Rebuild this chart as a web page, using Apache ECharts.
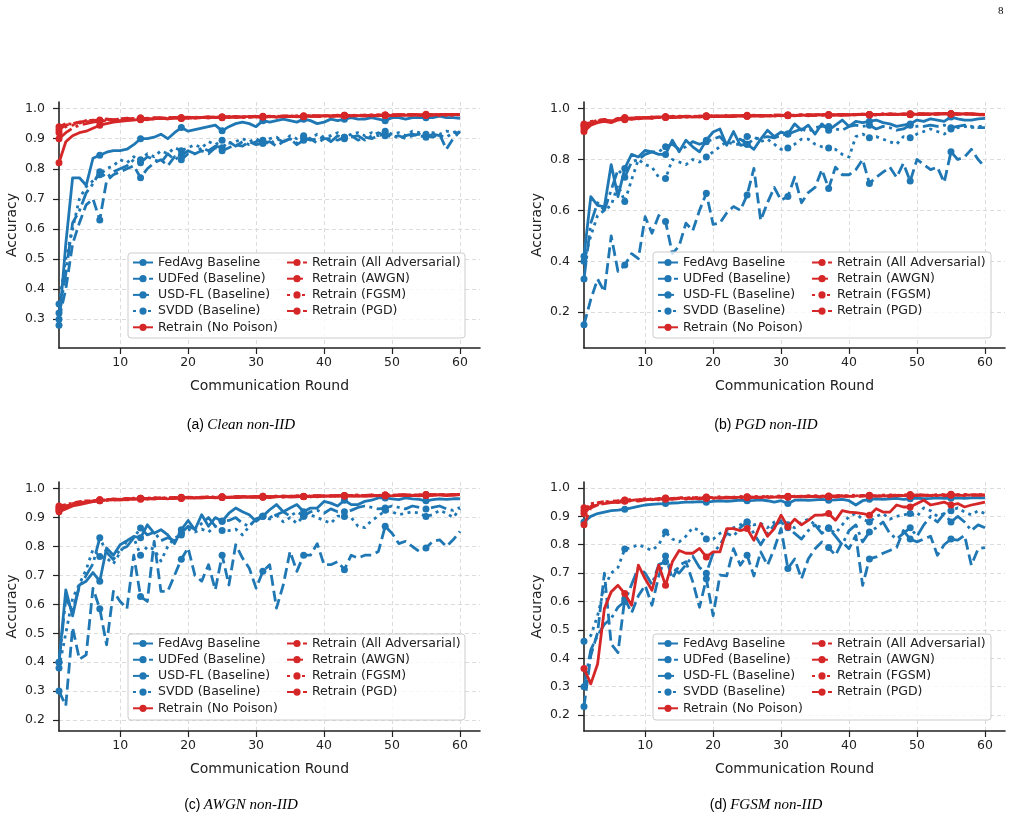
<!DOCTYPE html>
<html lang="en">
<head>
<meta charset="UTF-8">
<title>Accuracy per communication round</title>
<script src="https://cdn.jsdelivr.net/npm/echarts@6/dist/echarts.min.js"></script>
<style>
    html, body { margin: 0; padding: 0; background: #fff; }
    #chart { width: 1026px; height: 822px; }
</style>
</head>
<body>
<div id="chart"></div>
<script>
// communication rounds (x values)
const rounds = [1,2,3,4,5,6,7,8,9,10,11,12,13,14,15,16,17,18,19,20,
    21,22,23,24,25,26,27,28,29,30,31,32,33,34,35,36,37,38,39,40,
    41,42,43,44,45,46,47,48,49,50,51,52,53,54,55,56,57,58,59,60];
const xTicks = [10, 20, 30, 40, 50, 60];
const yTicksClean = [0.3, 0.4, 0.5, 0.6, 0.7, 0.8, 0.9, 1.0];
const yTicksPGD = [0.2, 0.4, 0.6, 0.8, 1.0];
const yTicksAWGN = [0.2, 0.3, 0.4, 0.5, 0.6, 0.7, 0.8, 0.9, 1.0];
const yTicksFGSM = [0.2, 0.3, 0.4, 0.5, 0.6, 0.7, 0.8, 0.9, 1.0];

const seriesNames = ['FedAvg Baseline', 'UDFed (Baseline)', 'USD-FL (Baseline)', 'SVDD (Baseline)',
    'Retrain (No Poison)', 'Retrain (All Adversarial)', 'Retrain (AWGN)', 'Retrain (FGSM)', 'Retrain (PGD)'];

// ---- (a) Clean non-IID ----
const cleanFedAvg = [0.28,0.55,0.77,0.77,0.745,0.835,0.845,0.855,0.86,0.86,
    0.865,0.88,0.90,0.90,0.905,0.915,0.90,0.92,0.937,0.925,
    0.93,0.935,0.94,0.945,0.926,0.94,0.95,0.955,0.95,0.94,
    0.96,0.955,0.96,0.965,0.96,0.955,0.965,0.96,0.95,0.955,
    0.965,0.96,0.965,0.97,0.965,0.965,0.97,0.965,0.96,0.97,
    0.97,0.965,0.97,0.97,0.97,0.97,0.975,0.97,0.97,0.968];
const cleanUDFed = [0.30,0.40,0.55,0.62,0.68,0.70,0.63,0.76,0.78,0.79,
    0.80,0.81,0.77,0.80,0.82,0.83,0.81,0.84,0.83,0.85,
    0.85,0.86,0.85,0.87,0.86,0.87,0.88,0.875,0.89,0.88,
    0.885,0.89,0.875,0.89,0.90,0.88,0.895,0.90,0.885,0.90,
    0.90,0.895,0.905,0.91,0.895,0.905,0.90,0.91,0.915,0.905,
    0.91,0.90,0.91,0.915,0.91,0.905,0.915,0.865,0.90,0.925];
const cleanUSDFL = [0.32,0.45,0.62,0.66,0.72,0.75,0.79,0.77,0.79,0.80,
    0.81,0.83,0.82,0.84,0.83,0.82,0.85,0.83,0.845,0.86,
    0.85,0.87,0.86,0.875,0.87,0.89,0.875,0.89,0.88,0.89,
    0.895,0.88,0.90,0.89,0.90,0.885,0.905,0.895,0.90,0.905,
    0.89,0.91,0.90,0.905,0.91,0.895,0.91,0.92,0.91,0.915,
    0.90,0.91,0.915,0.91,0.905,0.915,0.91,0.905,0.92,0.92];
const cleanSVDD = [0.35,0.50,0.60,0.70,0.74,0.76,0.78,0.80,0.81,0.83,
    0.82,0.84,0.83,0.85,0.84,0.86,0.85,0.87,0.86,0.87,
    0.88,0.87,0.89,0.88,0.895,0.885,0.89,0.90,0.89,0.90,
    0.885,0.90,0.905,0.89,0.91,0.90,0.91,0.90,0.915,0.905,
    0.91,0.92,0.905,0.915,0.92,0.91,0.92,0.91,0.925,0.915,
    0.92,0.91,0.925,0.92,0.915,0.92,0.915,0.925,0.92,0.93];
const cleanNoPoison = [0.82,0.89,0.91,0.92,0.925,0.935,0.945,0.95,0.955,0.958,
    0.96,0.962,0.965,0.963,0.967,0.968,0.966,0.969,0.97,0.968,
    0.97,0.971,0.969,0.972,0.97,0.973,0.971,0.972,0.974,0.972,
    0.973,0.975,0.972,0.974,0.975,0.973,0.976,0.974,0.975,0.977,
    0.975,0.976,0.978,0.976,0.977,0.978,0.976,0.979,0.977,0.978,
    0.98,0.978,0.979,0.98,0.978,0.98,0.979,0.981,0.98,0.98];
const cleanAllAdv = [0.93,0.945,0.95,0.955,0.958,0.962,0.96,0.965,0.963,0.966,
    0.968,0.965,0.969,0.967,0.97,0.968,0.971,0.969,0.97,0.972,
    0.97,0.971,0.973,0.97,0.972,0.974,0.972,0.973,0.971,0.974,
    0.975,0.973,0.974,0.976,0.974,0.975,0.973,0.976,0.977,0.975,
    0.976,0.978,0.976,0.977,0.979,0.977,0.978,0.976,0.979,0.98,
    0.978,0.979,0.981,0.979,0.98,0.978,0.981,0.98,0.979,0.981];
const cleanAWGN = [0.90,0.92,0.935,0.945,0.95,0.955,0.958,0.96,0.962,0.96,
    0.964,0.966,0.963,0.967,0.965,0.968,0.966,0.969,0.967,0.97,
    0.968,0.971,0.969,0.97,0.972,0.97,0.973,0.971,0.972,0.974,
    0.972,0.973,0.975,0.973,0.974,0.972,0.975,0.976,0.974,0.975,
    0.977,0.975,0.976,0.974,0.977,0.978,0.976,0.977,0.979,0.977,
    0.978,0.98,0.978,0.979,0.977,0.98,0.978,0.979,0.981,0.979];
const cleanFGSM = [0.92,0.94,0.945,0.952,0.956,0.96,0.958,0.963,0.961,0.965,
    0.963,0.967,0.965,0.968,0.966,0.969,0.967,0.97,0.968,0.969,
    0.971,0.969,0.972,0.97,0.971,0.973,0.971,0.972,0.974,0.972,
    0.973,0.971,0.975,0.973,0.974,0.976,0.974,0.975,0.973,0.976,
    0.977,0.975,0.976,0.978,0.976,0.977,0.979,0.977,0.978,0.976,
    0.979,0.98,0.978,0.979,0.981,0.979,0.98,0.978,0.98,0.981];
const cleanPGD = [0.94,0.95,0.948,0.955,0.96,0.958,0.962,0.965,0.963,0.966,
    0.964,0.967,0.969,0.966,0.968,0.97,0.968,0.971,0.969,0.97,
    0.972,0.97,0.971,0.973,0.971,0.972,0.974,0.972,0.973,0.975,
    0.973,0.974,0.972,0.975,0.976,0.974,0.975,0.977,0.975,0.976,
    0.974,0.977,0.978,0.976,0.977,0.975,0.978,0.979,0.977,0.978,
    0.98,0.978,0.979,0.977,0.98,0.981,0.979,0.98,0.978,0.98];

// ---- (b) PGD non-IID ----
const pgdFedAvg = [0.42,0.654,0.62,0.614,0.78,0.654,0.765,0.82,0.81,0.836,
    0.83,0.82,0.82,0.876,0.83,0.876,0.85,0.83,0.876,0.908,
    0.92,0.856,0.91,0.856,0.86,0.84,0.88,0.915,0.89,0.908,
    0.90,0.94,0.915,0.935,0.90,0.94,0.915,0.935,0.955,0.93,
    0.95,0.945,0.95,0.955,0.945,0.94,0.93,0.935,0.94,0.955,
    0.95,0.96,0.955,0.95,0.967,0.96,0.955,0.955,0.96,0.962];
const pgdUDFed = [0.15,0.25,0.33,0.28,0.50,0.36,0.385,0.43,0.41,0.575,
    0.51,0.58,0.556,0.43,0.46,0.55,0.52,0.60,0.667,0.545,
    0.55,0.59,0.615,0.60,0.66,0.765,0.56,0.63,0.69,0.64,
    0.655,0.73,0.63,0.67,0.69,0.76,0.686,0.77,0.74,0.74,
    0.76,0.80,0.706,0.73,0.75,0.77,0.73,0.785,0.715,0.80,
    0.78,0.76,0.77,0.71,0.83,0.80,0.81,0.84,0.80,0.77];
const pgdUSDFL = [0.33,0.55,0.63,0.60,0.68,0.76,0.73,0.79,0.80,0.82,
    0.83,0.83,0.85,0.86,0.84,0.85,0.87,0.86,0.87,0.88,
    0.89,0.86,0.87,0.88,0.86,0.88,0.885,0.89,0.885,0.895,
    0.90,0.91,0.92,0.91,0.925,0.93,0.93,0.92,0.915,0.93,
    0.935,0.93,0.935,0.92,0.93,0.925,0.915,0.92,0.935,0.93,
    0.93,0.935,0.93,0.935,0.925,0.93,0.935,0.93,0.925,0.925];
const pgdSVDD = [0.40,0.50,0.58,0.60,0.62,0.70,0.635,0.72,0.80,0.78,
    0.77,0.73,0.725,0.80,0.79,0.78,0.80,0.79,0.81,0.83,
    0.85,0.87,0.86,0.86,0.89,0.89,0.87,0.88,0.86,0.84,
    0.845,0.86,0.88,0.88,0.86,0.85,0.845,0.84,0.82,0.81,
    0.89,0.90,0.885,0.89,0.88,0.87,0.86,0.89,0.885,0.90,
    0.91,0.92,0.91,0.90,0.92,0.925,0.93,0.925,0.93,0.93];
const pgdNoPoison = [0.91,0.935,0.945,0.95,0.945,0.955,0.96,0.958,0.962,0.965,
    0.963,0.966,0.968,0.965,0.967,0.969,0.967,0.97,0.968,0.97,
    0.969,0.971,0.97,0.972,0.97,0.971,0.973,0.971,0.972,0.974,
    0.972,0.973,0.975,0.973,0.974,0.976,0.974,0.975,0.973,0.976,
    0.975,0.977,0.975,0.976,0.978,0.976,0.977,0.979,0.977,0.978,
    0.976,0.979,0.98,0.978,0.979,0.977,0.98,0.979,0.978,0.976];
const pgdAllAdv = [0.93,0.945,0.95,0.955,0.952,0.96,0.962,0.96,0.965,0.963,
    0.966,0.968,0.966,0.969,0.967,0.97,0.968,0.97,0.972,0.97,
    0.971,0.969,0.972,0.973,0.971,0.974,0.972,0.973,0.975,0.973,
    0.974,0.972,0.975,0.976,0.974,0.975,0.977,0.975,0.976,0.974,
    0.977,0.978,0.976,0.977,0.975,0.978,0.979,0.977,0.978,0.98,
    0.978,0.979,0.977,0.98,0.981,0.979,0.98,0.978,0.979,0.977];
const pgdAWGN = [0.92,0.94,0.948,0.953,0.95,0.958,0.956,0.962,0.96,0.964,
    0.962,0.965,0.967,0.965,0.968,0.966,0.969,0.967,0.97,0.968,
    0.971,0.969,0.97,0.972,0.97,0.973,0.971,0.972,0.974,0.972,
    0.975,0.973,0.974,0.972,0.975,0.976,0.974,0.975,0.977,0.975,
    0.976,0.978,0.976,0.977,0.979,0.977,0.976,0.978,0.979,0.977,
    0.98,0.978,0.979,0.981,0.979,0.978,0.98,0.978,0.977,0.975];
const pgdFGSM = [0.935,0.95,0.952,0.956,0.95,0.96,0.965,0.962,0.966,0.964,
    0.967,0.965,0.968,0.97,0.967,0.969,0.971,0.969,0.97,0.972,
    0.97,0.973,0.971,0.972,0.974,0.972,0.973,0.971,0.974,0.975,
    0.973,0.974,0.976,0.974,0.975,0.973,0.976,0.977,0.975,0.976,
    0.978,0.976,0.977,0.975,0.978,0.979,0.977,0.978,0.976,0.979,
    0.98,0.978,0.979,0.981,0.979,0.98,0.978,0.979,0.976,0.974];
const pgdPGD = [0.94,0.945,0.955,0.958,0.952,0.962,0.96,0.964,0.962,0.966,
    0.965,0.967,0.965,0.968,0.97,0.968,0.97,0.969,0.971,0.97,
    0.972,0.97,0.971,0.973,0.972,0.974,0.972,0.973,0.971,0.974,
    0.975,0.973,0.974,0.976,0.975,0.977,0.974,0.976,0.977,0.975,
    0.976,0.978,0.977,0.975,0.978,0.979,0.977,0.978,0.98,0.978,
    0.979,0.977,0.98,0.981,0.979,0.98,0.978,0.979,0.977,0.975];

// ---- (c) AWGN non-IID ----
const awgnFedAvg = [0.40,0.65,0.56,0.667,0.68,0.71,0.68,0.795,0.77,0.806,
    0.82,0.835,0.83,0.875,0.846,0.858,0.84,0.81,0.858,0.89,
    0.858,0.91,0.87,0.90,0.887,0.915,0.933,0.92,0.91,0.887,
    0.905,0.927,0.945,0.92,0.933,0.945,0.92,0.933,0.933,0.956,
    0.95,0.94,0.96,0.945,0.945,0.956,0.96,0.968,0.968,0.965,
    0.962,0.968,0.965,0.963,0.958,0.962,0.965,0.963,0.965,0.965];
const awgnUDFed = [0.30,0.25,0.52,0.41,0.425,0.655,0.585,0.46,0.645,0.61,
    0.585,0.77,0.627,0.61,0.818,0.645,0.645,0.70,0.756,0.795,
    0.70,0.68,0.737,0.65,0.77,0.667,0.806,0.76,0.725,0.656,
    0.714,0.737,0.587,0.667,0.783,0.714,0.77,0.77,0.81,0.737,
    0.737,0.748,0.72,0.77,0.76,0.77,0.77,0.783,0.87,0.846,
    0.81,0.818,0.80,0.783,0.795,0.818,0.823,0.80,0.823,0.852];
const awgnUSDFL = [0.40,0.62,0.58,0.66,0.70,0.74,0.83,0.78,0.755,0.79,
    0.80,0.83,0.864,0.84,0.85,0.82,0.83,0.82,0.846,0.87,
    0.86,0.88,0.90,0.87,0.887,0.89,0.90,0.88,0.87,0.895,
    0.905,0.895,0.91,0.92,0.905,0.92,0.905,0.92,0.925,0.915,
    0.93,0.92,0.92,0.925,0.935,0.94,0.935,0.93,0.933,0.94,
    0.935,0.93,0.94,0.935,0.93,0.935,0.94,0.93,0.925,0.935];
const awgnSVDD = [0.38,0.50,0.62,0.67,0.72,0.79,0.765,0.76,0.74,0.78,
    0.82,0.83,0.77,0.80,0.79,0.75,0.80,0.83,0.84,0.86,
    0.85,0.86,0.85,0.87,0.855,0.855,0.86,0.84,0.87,0.895,
    0.905,0.90,0.91,0.885,0.90,0.88,0.905,0.91,0.90,0.89,
    0.88,0.905,0.904,0.90,0.87,0.865,0.89,0.905,0.925,0.92,
    0.91,0.915,0.92,0.915,0.904,0.91,0.925,0.915,0.90,0.93];
const awgnNoPoison = [0.92,0.93,0.94,0.945,0.95,0.955,0.958,0.96,0.962,0.96,
    0.963,0.965,0.963,0.966,0.964,0.967,0.965,0.968,0.966,0.969,
    0.967,0.968,0.97,0.968,0.969,0.971,0.969,0.97,0.972,0.97,
    0.971,0.969,0.972,0.973,0.971,0.972,0.974,0.972,0.973,0.975,
    0.973,0.974,0.976,0.974,0.975,0.973,0.976,0.977,0.975,0.976,
    0.978,0.976,0.977,0.975,0.978,0.977,0.979,0.977,0.978,0.979];
const awgnAllAdv = [0.935,0.94,0.945,0.95,0.955,0.958,0.962,0.96,0.965,0.963,
    0.966,0.964,0.967,0.965,0.968,0.966,0.969,0.967,0.97,0.968,
    0.969,0.971,0.969,0.97,0.972,0.97,0.971,0.973,0.971,0.972,
    0.974,0.972,0.973,0.971,0.974,0.975,0.973,0.974,0.976,0.974,
    0.975,0.977,0.975,0.976,0.974,0.977,0.978,0.976,0.977,0.975,
    0.978,0.979,0.977,0.978,0.976,0.979,0.98,0.978,0.979,0.98];
const awgnAWGN = [0.93,0.935,0.945,0.948,0.953,0.957,0.96,0.962,0.96,0.963,
    0.961,0.964,0.966,0.964,0.967,0.965,0.968,0.966,0.969,0.967,
    0.97,0.968,0.969,0.971,0.969,0.97,0.972,0.97,0.971,0.973,
    0.971,0.972,0.974,0.972,0.973,0.975,0.973,0.974,0.972,0.975,
    0.976,0.974,0.975,0.977,0.975,0.976,0.974,0.977,0.978,0.976,
    0.977,0.979,0.977,0.978,0.976,0.979,0.978,0.98,0.978,0.979];
const awgnFGSM = [0.925,0.94,0.948,0.952,0.956,0.96,0.958,0.963,0.961,0.964,
    0.966,0.964,0.967,0.965,0.968,0.966,0.969,0.967,0.968,0.97,
    0.968,0.971,0.969,0.97,0.972,0.97,0.971,0.973,0.971,0.972,
    0.97,0.973,0.974,0.972,0.973,0.975,0.973,0.974,0.976,0.974,
    0.975,0.973,0.976,0.977,0.975,0.976,0.978,0.976,0.977,0.975,
    0.978,0.979,0.977,0.978,0.98,0.978,0.979,0.977,0.98,0.978];
const awgnPGD = [0.94,0.945,0.95,0.955,0.958,0.955,0.962,0.96,0.964,0.962,
    0.965,0.967,0.965,0.968,0.966,0.969,0.967,0.97,0.968,0.971,
    0.969,0.97,0.972,0.97,0.971,0.969,0.972,0.973,0.971,0.972,
    0.974,0.972,0.973,0.975,0.973,0.974,0.972,0.975,0.976,0.974,
    0.975,0.977,0.975,0.976,0.978,0.976,0.977,0.975,0.978,0.979,
    0.977,0.978,0.976,0.979,0.98,0.978,0.979,0.977,0.98,0.979];

// ---- (d) FGSM non-IID ----
const fgsmFedAvg = [0.88,0.90,0.91,0.915,0.92,0.922,0.925,0.93,0.935,0.94,
    0.942,0.944,0.945,0.947,0.948,0.95,0.95,0.952,0.95,0.953,
    0.955,0.953,0.955,0.957,0.955,0.956,0.958,0.955,0.95,0.955,
    0.945,0.957,0.958,0.956,0.958,0.96,0.957,0.958,0.96,0.955,
    0.94,0.955,0.96,0.962,0.96,0.962,0.963,0.96,0.962,0.964,
    0.962,0.963,0.965,0.963,0.964,0.965,0.963,0.965,0.966,0.965];
const fgsmUDFed = [0.23,0.41,0.49,0.70,0.45,0.42,0.61,0.56,0.62,0.657,
    0.587,0.69,0.76,0.68,0.728,0.74,0.67,0.58,0.68,0.55,
    0.693,0.69,0.786,0.728,0.763,0.69,0.775,0.728,0.786,0.857,
    0.716,0.75,0.68,0.75,0.786,0.81,0.79,0.763,0.81,0.786,
    0.833,0.657,0.75,0.757,0.77,0.78,0.79,0.85,0.82,0.81,
    0.82,0.83,0.763,0.80,0.82,0.816,0.833,0.728,0.786,0.79];
const fgsmUSDFL = [0.30,0.43,0.48,0.52,0.54,0.58,0.60,0.66,0.72,0.70,
    0.66,0.73,0.74,0.72,0.70,0.73,0.76,0.72,0.70,0.77,
    0.80,0.84,0.83,0.86,0.88,0.84,0.80,0.84,0.87,0.88,
    0.86,0.84,0.82,0.85,0.87,0.84,0.86,0.83,0.80,0.85,
    0.87,0.81,0.845,0.86,0.88,0.84,0.82,0.84,0.86,0.83,
    0.87,0.90,0.88,0.91,0.88,0.90,0.88,0.85,0.87,0.86];
const fgsmSVDD = [0.46,0.48,0.55,0.65,0.70,0.72,0.785,0.79,0.80,0.79,
    0.78,0.80,0.845,0.82,0.81,0.83,0.86,0.85,0.82,0.82,
    0.84,0.85,0.86,0.87,0.88,0.87,0.875,0.86,0.88,0.885,
    0.87,0.86,0.88,0.89,0.87,0.86,0.857,0.84,0.87,0.90,
    0.91,0.89,0.88,0.90,0.91,0.89,0.90,0.905,0.91,0.90,
    0.93,0.92,0.90,0.91,0.92,0.93,0.915,0.905,0.92,0.91];
const fgsmNoPoison = [0.364,0.31,0.38,0.575,0.634,0.657,0.628,0.587,0.728,0.68,
    0.64,0.728,0.657,0.74,0.78,0.77,0.77,0.787,0.757,0.775,
    0.775,0.857,0.857,0.85,0.857,0.816,0.875,0.83,0.857,0.904,
    0.863,0.89,0.87,0.886,0.904,0.904,0.91,0.886,0.92,0.915,
    0.913,0.91,0.904,0.927,0.915,0.915,0.94,0.933,0.933,0.945,
    0.957,0.94,0.945,0.95,0.94,0.945,0.933,0.94,0.945,0.95];
const fgsmAllAdv = [0.87,0.93,0.94,0.945,0.948,0.952,0.955,0.953,0.957,0.96,
    0.958,0.962,0.96,0.963,0.961,0.964,0.962,0.965,0.963,0.966,
    0.964,0.967,0.965,0.968,0.966,0.967,0.969,0.967,0.968,0.97,
    0.968,0.969,0.971,0.969,0.97,0.968,0.971,0.972,0.97,0.971,
    0.969,0.972,0.973,0.971,0.972,0.974,0.972,0.973,0.971,0.974,
    0.975,0.973,0.974,0.976,0.974,0.975,0.973,0.976,0.975,0.974];
const fgsmAWGN = [0.91,0.935,0.94,0.945,0.95,0.948,0.953,0.956,0.954,0.958,
    0.96,0.958,0.962,0.96,0.963,0.961,0.964,0.962,0.965,0.963,
    0.966,0.964,0.967,0.965,0.966,0.968,0.966,0.967,0.969,0.967,
    0.968,0.97,0.968,0.969,0.971,0.969,0.97,0.968,0.971,0.972,
    0.97,0.971,0.973,0.971,0.972,0.97,0.973,0.974,0.972,0.973,
    0.975,0.973,0.974,0.972,0.975,0.976,0.974,0.975,0.976,0.975];
const fgsmFGSM = [0.93,0.94,0.945,0.95,0.955,0.953,0.957,0.96,0.958,0.962,
    0.96,0.963,0.965,0.963,0.966,0.964,0.967,0.965,0.968,0.966,
    0.969,0.967,0.968,0.97,0.968,0.969,0.971,0.969,0.97,0.972,
    0.97,0.971,0.969,0.972,0.973,0.971,0.972,0.974,0.972,0.973,
    0.975,0.973,0.974,0.972,0.975,0.976,0.974,0.975,0.977,0.975,
    0.976,0.974,0.977,0.976,0.978,0.976,0.977,0.975,0.977,0.976];
const fgsmPGD = [0.92,0.945,0.948,0.952,0.95,0.955,0.958,0.956,0.96,0.958,
    0.962,0.96,0.964,0.962,0.965,0.963,0.966,0.964,0.967,0.965,
    0.966,0.968,0.966,0.967,0.969,0.967,0.968,0.97,0.968,0.969,
    0.971,0.969,0.97,0.972,0.97,0.971,0.969,0.972,0.973,0.971,
    0.972,0.974,0.972,0.973,0.971,0.974,0.975,0.973,0.974,0.976,
    0.974,0.975,0.973,0.976,0.977,0.975,0.976,0.974,0.976,0.975];

// ---- styling ----
const BLUE = '#1f77b4';
const RED = '#d62728';
const INK = '#222';
const FONT = 'DejaVu Sans';
const lineLook = {
    'FedAvg Baseline': [BLUE, 'solid'],
    'UDFed (Baseline)': [BLUE, [11, 5]],
    'USD-FL (Baseline)': [BLUE, [16, 4.5, 3, 4.5]],
    'SVDD (Baseline)': [BLUE, [3, 4.5]],
    'Retrain (No Poison)': [RED, 'solid'],
    'Retrain (All Adversarial)': [RED, [11, 5]],
    'Retrain (AWGN)': [RED, [16, 4.5, 3, 4.5]],
    'Retrain (FGSM)': [RED, [3, 4.5]],
    'Retrain (PGD)': [RED, [7, 3, 3, 3]]
};

const panels = [
    { values: [cleanFedAvg, cleanUDFed, cleanUSDFL, cleanSVDD, cleanNoPoison, cleanAllAdv, cleanAWGN, cleanFGSM, cleanPGD],
      yTicks: yTicksClean, yMin: 0.204, yMax: 1.022, left: 59, top: 102, height: 246,
      box: [128, 253, 337, 85], legendTop: 256, tag: '(a)', caption: 'Clean non-IID', capY: 425 },
    { values: [pgdFedAvg, pgdUDFed, pgdUSDFL, pgdSVDD, pgdNoPoison, pgdAllAdv, pgdAWGN, pgdFGSM, pgdPGD],
      yTicks: yTicksPGD, yMin: 0.059, yMax: 1.026, left: 584, top: 102, height: 246,
      box: [653, 252, 338, 86], legendTop: 256, tag: '(b)', caption: 'PGD non-IID', capY: 425 },
    { values: [awgnFedAvg, awgnUDFed, awgnUSDFL, awgnSVDD, awgnNoPoison, awgnAllAdv, awgnAWGN, awgnFGSM, awgnPGD],
      yTicks: yTicksAWGN, yMin: 0.162, yMax: 1.023, left: 59, top: 482, height: 249,
      box: [128, 634, 337, 86], legendTop: 637, tag: '(c)', caption: 'AWGN non-IID', capY: 805 },
    { values: [fgsmFedAvg, fgsmUDFed, fgsmUSDFL, fgsmSVDD, fgsmNoPoison, fgsmAllAdv, fgsmAWGN, fgsmFGSM, fgsmPGD],
      yTicks: yTicksFGSM, yMin: 0.144, yMax: 1.021, left: 584, top: 482, height: 249,
      box: [653, 634, 338, 86], legendTop: 637, tag: '(d)', caption: 'FGSM non-IID', capY: 805 }
];

const option = {
    animation: false,
    backgroundColor: '#fff',
    grid: [], xAxis: [], yAxis: [], series: [], legend: [],
    graphic: [{
        type: 'text', left: 998, top: 6,
        style: { text: '8', fontSize: 11, fontFamily: 'Liberation Serif', fill: '#000' }
    }]
};

const splitLook = { show: true, lineStyle: { color: '#dcdcdc', type: [4, 3], width: 1 } };

panels.forEach((p, i) => {
    option.grid.push({ left: p.left, top: p.top, width: 421, height: p.height });

    option.xAxis.push({
        type: 'value', gridIndex: i, min: 1, max: 62.95,
        name: 'Communication Round', nameLocation: 'middle', nameGap: 31,
        nameTextStyle: { fontSize: 14, color: INK, fontFamily: FONT },
        axisLine: { onZero: false, lineStyle: { color: INK, width: 1.6 } },
        axisTick: { show: true, length: 6, customValues: xTicks, lineStyle: { color: INK, width: 1.2 } },
        axisLabel: { customValues: xTicks, fontSize: 12.5, color: INK, fontFamily: FONT, margin: 8 },
        splitLine: splitLook
    });

    option.yAxis.push({
        type: 'value', gridIndex: i, min: p.yMin, max: p.yMax,
        name: 'Accuracy', nameLocation: 'middle', nameGap: 40,
        nameTextStyle: { fontSize: 14, color: INK, fontFamily: FONT },
        axisLine: { show: true, lineStyle: { color: INK, width: 1.6 } },
        axisTick: { show: true, length: 6, customValues: p.yTicks, lineStyle: { color: INK, width: 1.2 } },
        axisLabel: { customValues: p.yTicks, fontSize: 12.5, color: INK, fontFamily: FONT, margin: 14,
            formatter: v => v.toFixed(1) },
        splitLine: splitLook
    });

    seriesNames.forEach((name, k) => {
        const [color, dash] = lineLook[name];
        const vals = p.values[k];
        option.series.push({
            type: 'line', name: name, xAxisIndex: i, yAxisIndex: i,
            data: rounds.map((r, j) => [r, vals[j]]),
            symbol: 'circle', showSymbol: true,
            // a marker on every sixth round, as in the source figure
            symbolSize: (v, params) => (params.dataIndex % 6 === 0 ? 7 : 0),
            itemStyle: { color: color },
            lineStyle: { color: color, width: 2.8, type: dash, cap: 'butt', join: 'round' },
            emphasis: { disabled: true },
            z: 2 + k * 0.01
        });
    });

    // legend frame
    option.graphic.push({
        type: 'rect', z: 3,
        shape: { x: p.box[0], y: p.box[1], width: p.box[2], height: p.box[3], r: 3 },
        style: { fill: 'rgba(255,255,255,0.8)', stroke: '#cccccc', lineWidth: 1 }
    });

    const legendBase = {
        orient: 'vertical', top: p.legendTop, itemGap: 3.2, itemWidth: 20, itemHeight: 9,
        padding: 0, selectedMode: false, z: 4,
        textStyle: { fontSize: 12.5, color: INK, fontFamily: FONT }
    };
    option.legend.push(Object.assign({}, legendBase, {
        left: p.box[0] + 4, data: seriesNames.slice(0, 5)
    }));
    option.legend.push(Object.assign({}, legendBase, {
        left: p.box[0] + 158, data: seriesNames.slice(5)
    }));

    // caption under the panel
    option.graphic.push({
        type: 'text', x: p.left + 182, y: p.capY,
        style: {
            text: '{t|' + p.tag + '} {c|' + p.caption + '}',
            align: 'center', verticalAlign: 'middle',
            rich: {
                t: { fontSize: 14, fontFamily: 'Liberation Sans Narrow, Liberation Sans', fill: '#000' },
                c: { fontSize: 15, fontFamily: 'Liberation Serif', fontStyle: 'italic', fill: '#000' }
            }
        }
    });
});

const myChart = echarts.init(document.getElementById('chart'));
myChart.setOption(option);
</script>
</body>
</html>
